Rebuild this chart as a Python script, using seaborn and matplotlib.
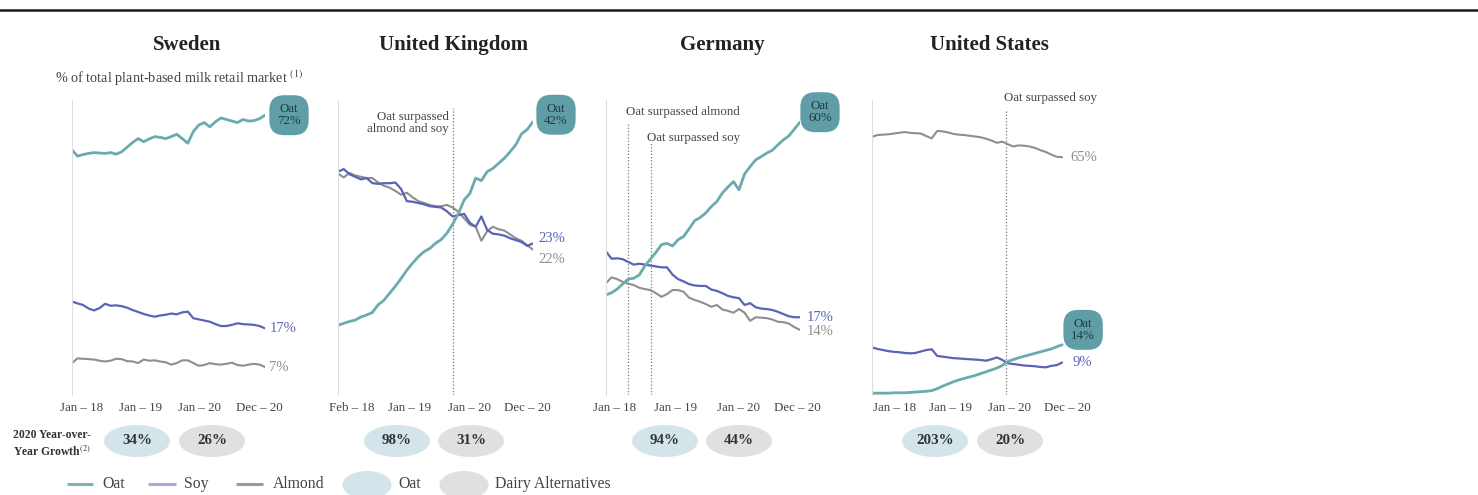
import numpy as np
import pandas as pd
import matplotlib
matplotlib.use("Agg")
import matplotlib.pyplot as plt
import seaborn as sns
from matplotlib.patches import Ellipse

# Share of total plant-based milk retail market (%), monthly
countries = ["Sweden", "United Kingdom", "Germany", "United States"]
tick_labels = [
    ["Jan – 18", "Jan – 19", "Jan – 20", "Dec – 20"],
    ["Feb – 18", "Jan – 19", "Jan – 20", "Dec – 20"],
    ["Jan – 18", "Jan – 19", "Jan – 20", "Dec – 20"],
    ["Jan – 18", "Jan – 19", "Jan – 20", "Dec – 20"],
]

sweden_oat = [62.6, 61.0, 61.4, 61.7, 61.9, 61.8, 61.7, 61.9, 61.5, 62.1, 63.3, 64.5,
              65.5, 64.7, 65.4, 66.0, 65.8, 65.5, 66.0, 66.6, 65.5, 64.3, 67.3, 69.0,
              69.6, 68.5, 69.8, 70.8, 70.4, 70.0, 69.6, 70.4, 70.0, 70.1, 70.6, 71.5]
sweden_soy = [23.7, 23.2, 22.8, 21.9, 21.4, 22.0, 23.1, 22.6, 22.7, 22.5, 22.1, 21.5,
              21.0, 20.5, 20.1, 19.8, 20.1, 20.3, 20.6, 20.4, 20.9, 21.1, 19.4, 19.1,
              18.8, 18.5, 17.9, 17.4, 17.4, 17.7, 18.1, 17.9, 17.8, 17.7, 17.4, 16.8]
sweden_almond = [7.9, 9.1, 9.0, 8.9, 8.8, 8.5, 8.3, 8.5, 9.0, 8.9, 8.4, 8.3,
                 7.9, 8.8, 8.5, 8.6, 8.3, 8.1, 7.5, 7.9, 8.6, 8.6, 7.9, 7.2,
                 7.4, 7.9, 7.6, 7.5, 7.7, 8.0, 7.4, 7.2, 7.5, 7.7, 7.5, 6.9]

uk_oat = [10.2, 10.5, 10.8, 11.0, 11.5, 11.8, 12.2, 13.4, 14.1, 15.2, 16.3, 17.5,
          18.8, 19.9, 20.9, 21.7, 22.2, 23.0, 23.6, 24.6, 26.0, 27.7, 29.8, 30.8,
          33.2, 32.8, 34.2, 34.7, 35.5, 36.3, 37.3, 38.4, 40.1, 40.8, 42.0]
uk_soy = [34.2, 34.6, 33.8, 33.4, 33.0, 33.2, 32.4, 32.3, 32.4, 32.4, 32.5, 31.5,
          29.6, 29.5, 29.3, 29.1, 28.8, 28.7, 28.6, 28.0, 27.2, 27.4, 27.6, 26.2,
          25.6, 27.2, 25.1, 24.5, 24.4, 24.2, 23.8, 23.5, 23.2, 22.6, 23.0]
uk_almond = [33.9, 33.3, 34.0, 33.6, 33.4, 33.2, 33.2, 32.5, 32.0, 31.7, 31.2, 30.6,
             30.9, 30.2, 29.6, 29.3, 29.0, 28.8, 28.8, 29.0, 28.6, 27.9, 26.9, 25.9,
             25.6, 23.4, 24.9, 25.6, 25.2, 25.0, 24.4, 23.8, 23.4, 22.7, 22.0]

germany_oat = [21.9, 22.4, 23.2, 24.3, 25.4, 25.6, 26.3, 28.3, 29.8, 31.3, 33.0, 33.3,
               32.7, 34.1, 34.8, 36.5, 38.3, 39.0, 40.0, 41.4, 42.5, 44.4, 45.7, 46.9,
               45.1, 48.6, 50.2, 51.7, 52.4, 53.2, 53.8, 55.0, 56.1, 57.0, 58.5, 60.0]
germany_soy = [31.5, 29.9, 30.0, 29.8, 29.2, 28.6, 28.8, 28.6, 28.4, 28.2, 28.0, 28.0,
               26.4, 25.4, 24.9, 24.3, 24.0, 23.9, 23.9, 23.1, 22.8, 22.3, 21.7, 21.4,
               21.2, 19.7, 20.1, 19.2, 18.9, 18.8, 18.6, 18.2, 17.7, 17.2, 17.0, 17.0]
germany_almond = [24.5, 25.8, 25.4, 24.8, 24.4, 24.1, 23.5, 23.2, 23.0, 22.3, 21.5, 22.1,
                  23.0, 23.0, 22.6, 21.3, 20.8, 20.4, 19.9, 19.3, 19.7, 18.7, 18.4, 18.0,
                  18.8, 18.0, 16.2, 17.0, 16.9, 16.8, 16.5, 16.0, 15.9, 15.6, 14.8, 14.2]

us_oat = [0.9, 0.9, 0.9, 0.9, 1.0, 1.0, 1.0, 1.1, 1.2, 1.3, 1.4, 1.6,
          2.1, 2.8, 3.4, 4.0, 4.5, 4.9, 5.3, 5.7, 6.2, 6.7, 7.2, 7.7,
          8.4, 9.5, 10.0, 10.5, 10.9, 11.3, 11.7, 12.1, 12.5, 12.9, 13.5, 14.0]
us_soy = [13.3, 12.9, 12.6, 12.3, 12.1, 12.0, 11.8, 11.7, 11.8, 12.2, 12.6, 12.8,
          11.0, 10.8, 10.6, 10.4, 10.3, 10.2, 10.1, 10.0, 9.9, 9.7, 10.1, 10.6,
          9.9, 9.0, 8.8, 8.6, 8.4, 8.3, 8.2, 8.0, 7.9, 8.3, 8.5, 9.2]
us_almond = [70.4, 70.9, 71.0, 71.1, 71.3, 71.5, 71.7, 71.5, 71.4, 71.3, 70.6, 70.0,
             72.0, 71.9, 71.6, 71.2, 71.0, 70.9, 70.7, 70.5, 70.3, 69.9, 69.4, 68.8,
             69.1, 68.4, 67.8, 68.1, 68.0, 67.8, 67.4, 66.8, 66.3, 65.6, 65.0, 64.9]

oat_series = [sweden_oat, uk_oat, germany_oat, us_oat]
soy_series = [sweden_soy, uk_soy, germany_soy, us_soy]
almond_series = [sweden_almond, uk_almond, germany_almond, us_almond]

end_oat = [72, 42, 60, 14]
end_soy = [17, 23, 17, 9]
end_almond = [7, 22, 14, 65]

# 2020 year-over-year growth (%)
growth_oat = [34, 98, 94, 203]
growth_dairy = [26, 31, 44, 20]

# "Oat surpassed ..." events (month index, text)
events = [
    [],
    [(20, "Oat surpassed\nalmond and soy")],
    [(4, "Oat surpassed almond"), (8.1, "Oat surpassed soy")],
    [(24.6, "Oat surpassed soy")],
]

# ---- layout (pixels) ----
W, H = 1478, 495
panel_left = [72, 338, 606, 872]
panel_width = [193, 195, 194, 195]
top, bottom = 100, 395
ylims = [(-0.3, 75.4), (-0.7, 45.4), (-0.15, 64.9), (0.4, 80.4)]
tick_pos = [[1.8, 12.5, 23.2, 33.9], [2.4, 12.5, 23.0, 33.1],
            [1.6, 12.5, 23.9, 34.5], [4.1, 14.5, 25.3, 35.9]]
title_x = [187, 454, 722, 989]
soy_off = [(5, 0), (5, 5), (7, 0), (10, 0)]
almond_off = [(4, -1), (5, -10), (7, -2), (8, 0)]
bubble_off = [(24, 0), (23, 7), (20, 10), (21, 15)]
event_line_top = [[], [0.973], [0.922, 0.854], [0.966]]
event_text_off = [[], [(-4, -3)], [(-2, 11), (-4, 5)], [(-2, 12)]]
event_text_ha = [[], ["right"], ["left", "left"], ["left"]]
event_text_va = [[], ["top"], ["center", "center"], ["center"]]
oat_cx = [137, 397, 665, 935]
dairy_cx = [212, 471, 739, 1010]

c_oat, c_soy, c_almond = "#6aabb0", "#5a63b6", "#8e8e8e"
c_bubble = "#5f9ea6"
c_lightblue, c_lightgray = "#d3e5eb", "#e0e0e0"

sns.set_style("white")
plt.rcParams["font.family"] = ["Liberation Serif", "DejaVu Serif"]
plt.rcParams["mathtext.fontset"] = "stix"

fig = plt.figure(figsize=(W / 100, H / 100), dpi=100)

# overlay axes in pixel coordinates for titles, growth row and legend
ov = fig.add_axes([0, 0, 1, 1])
ov.set_xlim(0, W)
ov.set_ylim(H, 0)
ov.axis("off")
ov.axhline(10, color="#1a1a1a", lw=1.8)

for i, country in enumerate(countries):
    n = len(oat_series[i])
    ax = fig.add_axes([panel_left[i] / W, 1 - bottom / H,
                       panel_width[i] / W, (bottom - top) / H])
    ax.patch.set_alpha(0)
    df = pd.DataFrame({"month": np.arange(n),
                       "Oat": oat_series[i], "Soy": soy_series[i], "Almond": almond_series[i]})
    long = df.melt(id_vars="month", var_name="milk", value_name="share")

    for (x, _), ltop in zip(events[i], event_line_top[i]):
        ax.axvline(x, ymin=0, ymax=ltop, color="#777777", lw=0.9, ls=(0, (1, 1.6)))

    sns.lineplot(data=long[long.milk == "Almond"], x="month", y="share", color=c_almond, lw=1.5, ax=ax)
    sns.lineplot(data=long[long.milk == "Soy"], x="month", y="share", color=c_soy, lw=1.6, ax=ax)
    sns.lineplot(data=long[long.milk == "Oat"], x="month", y="share", color=c_oat, lw=2.0, ax=ax)

    ax.set_xlim(0, n - 1)
    ax.set_ylim(*ylims[i])
    ax.set_xticks(tick_pos[i])
    ax.set_xticklabels(tick_labels[i])
    ax.set_yticks([])
    ax.set_xlabel("")
    ax.set_ylabel("")
    ax.tick_params(axis="x", length=0, pad=5, labelsize=9.3, labelcolor="#444444")
    for s in ["top", "right", "bottom"]:
        ax.spines[s].set_visible(False)
    ax.spines["left"].set_color("#dedede")
    ax.spines["left"].set_linewidth(0.8)

    # end labels
    ax.annotate(f"{end_soy[i]}%", xy=(n - 1, soy_series[i][-1]), xytext=soy_off[i],
                textcoords="offset pixels", ha="left", va="center", fontsize=10.5,
                color=c_soy, annotation_clip=False)
    ax.annotate(f"{end_almond[i]}%", xy=(n - 1, almond_series[i][-1]), xytext=almond_off[i],
                textcoords="offset pixels", ha="left", va="center", fontsize=10.5,
                color=c_almond, annotation_clip=False)
    ax.annotate(f"Oat\n{end_oat[i]}%", xy=(n - 1, oat_series[i][-1]), xytext=bubble_off[i],
                textcoords="offset pixels", ha="center", va="center", fontsize=9.3,
                color="#1e3b40", linespacing=1.05, annotation_clip=False, zorder=5,
                bbox=dict(boxstyle="round,pad=0.6,rounding_size=1.15", fc=c_bubble, ec="none"))

    for (x, txt), ltop, off, ha, va in zip(events[i], event_line_top[i], event_text_off[i],
                                           event_text_ha[i], event_text_va[i]):
        ax.annotate(txt, xy=(x, ltop), xycoords=("data", "axes fraction"), xytext=off,
                    textcoords="offset pixels", ha=ha, va=va, fontsize=9.3,
                    color="#444444", linespacing=1.0, annotation_clip=False)

    ov.text(title_x[i], 45, country, ha="center", va="center", fontsize=15,
            fontweight="bold", color="#222222")

    # growth ellipses
    ov.add_patch(Ellipse((oat_cx[i], 441), 66, 32, fc=c_lightblue, ec="none"))
    ov.add_patch(Ellipse((dairy_cx[i], 441), 66, 32, fc=c_lightgray, ec="none"))
    ov.text(oat_cx[i], 441, f"{growth_oat[i]}%", ha="center", va="center",
            fontsize=10.8, fontweight="bold", color="#333333")
    ov.text(dairy_cx[i], 441, f"{growth_dairy[i]}%", ha="center", va="center",
            fontsize=10.8, fontweight="bold", color="#333333")

ov.text(55, 78, r"% of total plant-based milk retail market $^{(1)}$", ha="left", va="center",
        fontsize=10.3, color="#444444")
ov.text(13, 444, "2020 Year-over-\nYear Growth$^{(2)}$", ha="left", va="center",
        fontsize=8.4, fontweight="bold", color="#333333", linespacing=1.3)

# legend
leg_y = 484
for (x0, x1, tx, col, lab) in [(67, 93, 102, "#7fb3b7", "Oat"),
                               (148, 176, 184, "#a6acdc", "Soy"),
                               (236, 263, 273, "#999999", "Almond")]:
    ov.plot([x0, x1], [leg_y, leg_y], color=col, lw=2.2, solid_capstyle="butt")
    ov.text(tx, leg_y, lab, ha="left", va="center", fontsize=11.3, color="#444444")
for (cx, tx, col, lab) in [(367, 398, c_lightblue, "Oat"),
                           (464, 495, c_lightgray, "Dairy Alternatives")]:
    ov.add_patch(Ellipse((cx, leg_y + 1), 49, 28, fc=col, ec="none"))
    ov.text(tx, leg_y, lab, ha="left", va="center", fontsize=11.3, color="#444444")

fig.savefig("out.png", dpi=100)
